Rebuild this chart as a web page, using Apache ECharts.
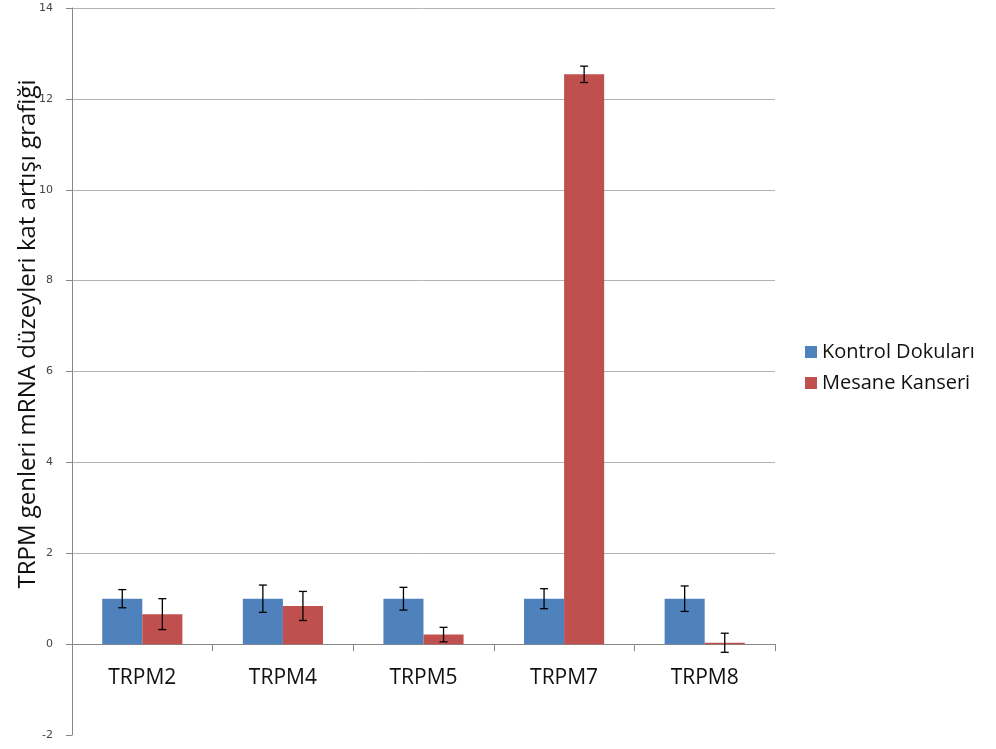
<!DOCTYPE html>
<html>
<head>
<meta charset="utf-8">
<script src="https://cdn.jsdelivr.net/npm/echarts@6/dist/echarts.min.js"></script>
<style>
html,body{margin:0;padding:0;background:#fff;}
#chart{width:996px;height:749px;}
</style>
</head>
<body>
<div id="chart"></div>
<script>
var genes = ['TRPM2', 'TRPM4', 'TRPM5', 'TRPM7', 'TRPM8'];
var kontrol = [1.0, 1.0, 1.0, 1.0, 1.0];
var kontrolErr = [0.2, 0.3, 0.25, 0.22, 0.28];
var kanser = [0.66, 0.84, 0.21, 12.54, 0.03];
var kanserErr = [0.34, 0.32, 0.16, 0.18, 0.21];
var yTicks = [-2, 0, 2, 4, 6, 8, 10, 12, 14];

var catGap = 0.43;
var font = '"Open Sans", "Liberation Sans", sans-serif';

function errData(vals, errs) {
  return vals.map(function (v, i) { return [i, v - errs[i], v + errs[i]]; });
}

// draw an error bar; side -1 = left bar, +1 = right bar
function errRender(side) {
  return function (params, api) {
    var i = api.value(0);
    var lo = api.coord([i, api.value(1)]);
    var hi = api.coord([i, api.value(2)]);
    var band = api.size([1, 0])[0];
    var barW = band * (1 - catGap) / 2;
    var x = lo[0] + side * barW / 2;
    var cap = 4;
    var st = { stroke: '#000', lineWidth: 1.3 };
    return {
      type: 'group',
      children: [
        { type: 'line', shape: { x1: x, y1: hi[1], x2: x, y2: lo[1] }, style: st },
        { type: 'line', shape: { x1: x - cap, y1: hi[1], x2: x + cap, y2: hi[1] }, style: st },
        { type: 'line', shape: { x1: x - cap, y1: lo[1], x2: x + cap, y2: lo[1] }, style: st }
      ]
    };
  };
}

var chart = echarts.init(document.getElementById('chart'));
chart.setOption({
  animation: false,
  backgroundColor: '#fff',
  grid: { left: 72, right: 221, top: 8, bottom: 14 },
  graphic: [{
    type: 'text',
    x: 28,
    y: 334,
    rotation: Math.PI / 2,
    style: {
      text: 'TRPM genleri mRNA düzeyleri kat artışı grafiği',
      font: '24px ' + font,
      fill: '#111',
      align: 'center',
      verticalAlign: 'middle'
    }
  }],
  legend: {
    orient: 'vertical',
    left: 800,
    top: 337,
    icon: 'rect',
    itemWidth: 12,
    itemHeight: 12,
    itemGap: 11,
    textStyle: { fontFamily: font, fontSize: 20, color: '#111' },
    data: ['Kontrol Dokuları', 'Mesane Kanseri']
  },
  xAxis: {
    type: 'category',
    data: genes,
    axisLine: { onZero: true, lineStyle: { color: '#888', width: 1 } },
    axisTick: { show: true, length: 7, lineStyle: { color: '#888' } },
    axisLabel: { fontFamily: font, fontSize: 21, color: '#111', margin: -67 }
  },
  yAxis: {
    type: 'value',
    min: -2,
    max: 14,
    interval: 2,
    axisLine: { show: true, lineStyle: { color: '#888' } },
    axisTick: { show: true, length: 6, lineStyle: { color: '#888' } },
    axisLabel: { fontFamily: '"DejaVu Sans", sans-serif', fontSize: 11, color: '#444', margin: 19 },
    splitLine: {
      show: true,
      lineStyle: {
        color: yTicks.map(function (t, k) { return k < 2 ? 'rgba(0,0,0,0)' : '#b4b4b4'; }),
        width: 1
      }
    }
  },
  series: [
    {
      name: 'Kontrol Dokuları',
      type: 'bar',
      data: kontrol,
      barGap: '0%',
      barCategoryGap: (catGap * 100) + '%',
      itemStyle: { color: '#4F81BD' }
    },
    {
      name: 'Mesane Kanseri',
      type: 'bar',
      data: kanser,
      itemStyle: { color: '#C0504D' }
    },
    {
      type: 'custom',
      renderItem: errRender(-1),
      data: errData(kontrol, kontrolErr),
      encode: { x: 0, y: [1, 2] },
      z: 10
    },
    {
      type: 'custom',
      renderItem: errRender(1),
      data: errData(kanser, kanserErr),
      encode: { x: 0, y: [1, 2] },
      z: 10
    }
  ]
});
</script>
</body>
</html>
